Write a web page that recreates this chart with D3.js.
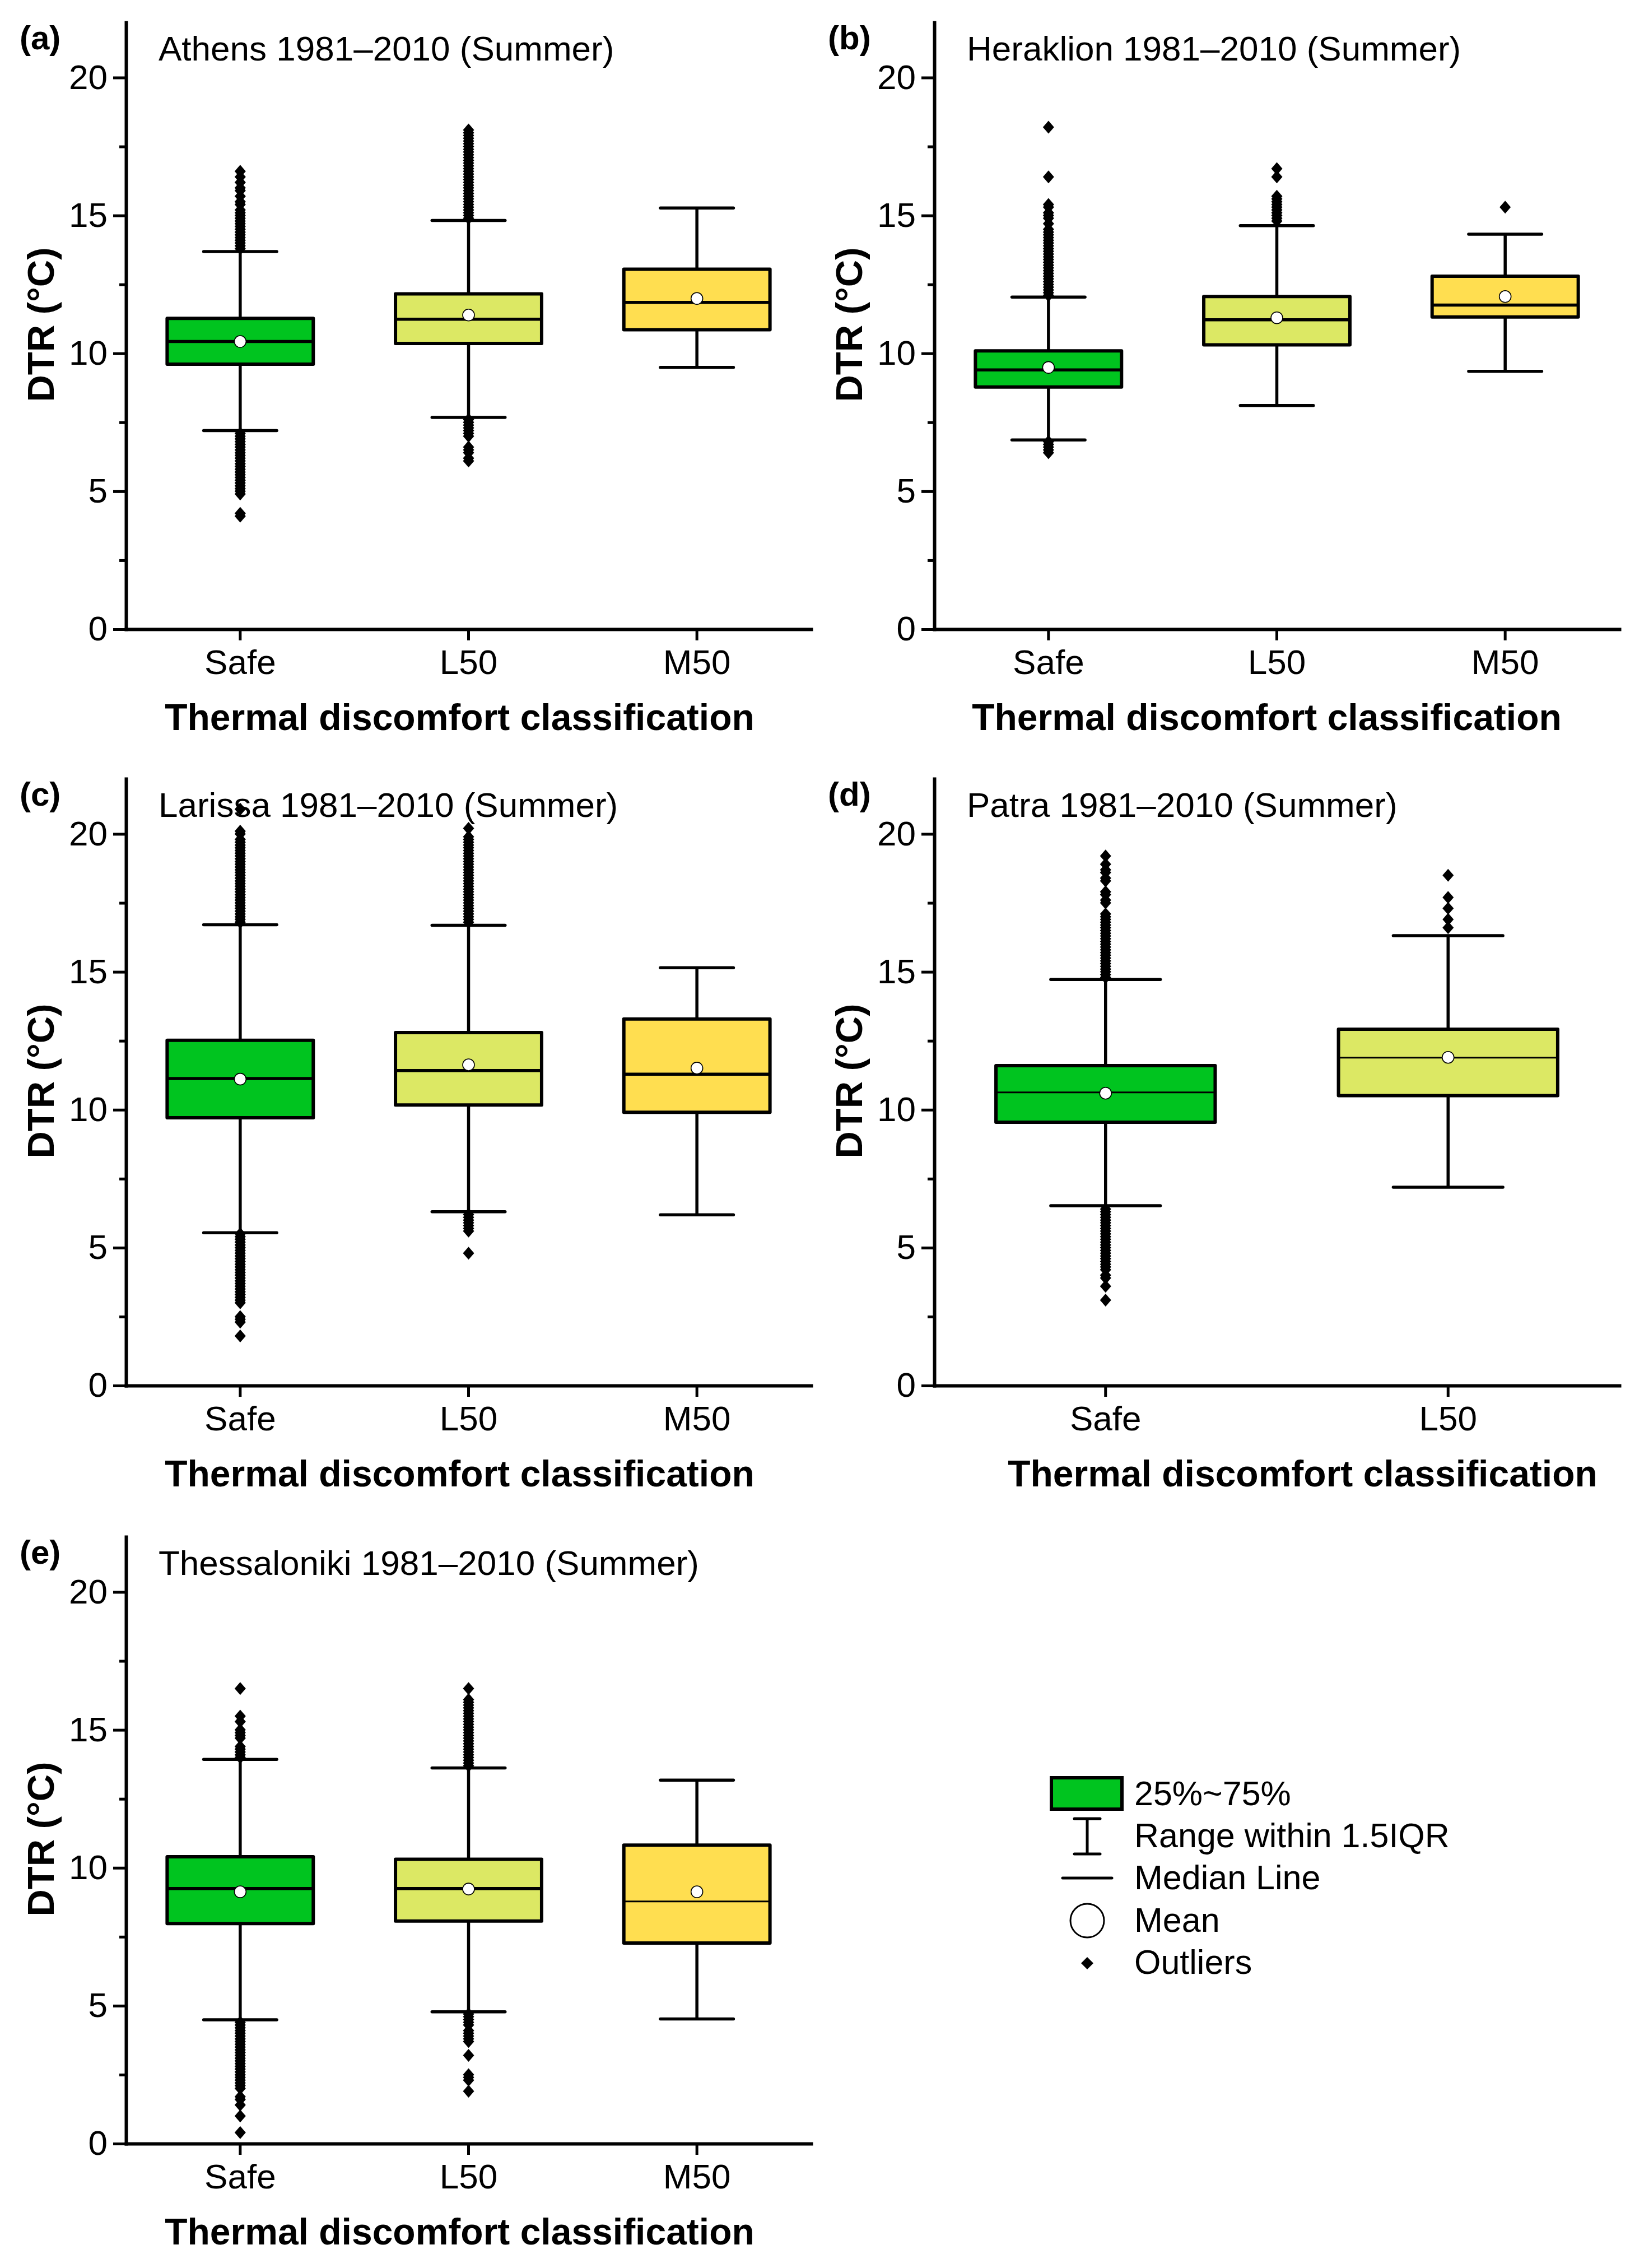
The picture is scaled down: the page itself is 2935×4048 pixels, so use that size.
<!DOCTYPE html>
<html>
<head>
<meta charset="utf-8">
<script src="https://cdn.jsdelivr.net/npm/d3@7"></script>
<style>
  html, body { margin: 0; padding: 0; background: #ffffff; }
  svg { display: block; }
  text { font-family: "Liberation Sans", Arial, sans-serif; fill: #000; }
</style>
</head>
<body>
<script>
// ---------------- DATA ----------------
const panelLabels = ["(a)", "(b)", "(c)", "(d)", "(e)"];
const panelTitles = [
  "Athens 1981\u20132010 (Summer)",
  "Heraklion 1981\u20132010 (Summer)",
  "Larissa 1981\u20132010 (Summer)",
  "Patra 1981\u20132010 (Summer)",
  "Thessaloniki 1981\u20132010 (Summer)"
];
const categories = [
  ["Safe", "L50", "M50"],
  ["Safe", "L50", "M50"],
  ["Safe", "L50", "M50"],
  ["Safe", "L50"],
  ["Safe", "L50", "M50"]
];
const yTicks = [0, 5, 10, 15, 20];
const yMinorTicks = [2.5, 7.5, 12.5, 17.5];
const xAxisTitle = "Thermal discomfort classification";
const yAxisTitle = "DTR (\u00B0C)";

const whiskerLow  = [[7.20, 7.68, 9.49], [6.86, 8.11, 9.35], [5.54, 6.30, 6.19], [6.52, 7.19], [4.49, 4.78, 4.52]];
const q1          = [[9.61, 10.36, 10.86], [8.78, 10.31, 11.32], [9.71, 10.17, 9.91], [9.55, 10.51], [7.98, 8.07, 7.27]];
const median      = [[10.43, 11.24, 11.85], [9.40, 11.22, 11.75], [11.13, 11.42, 11.29], [10.63, 11.89], [9.25, 9.25, 8.78]];
const q3          = [[11.27, 12.16, 13.05], [10.09, 12.06, 12.80], [12.52, 12.80, 13.29], [11.60, 12.92], [10.40, 10.31, 10.82]];
const whiskerHigh = [[13.69, 14.82, 15.27], [12.04, 14.63, 14.32], [16.71, 16.69, 15.15], [14.72, 16.31], [13.93, 13.62, 13.18]];
const means       = [[10.43, 11.39, 11.99], [9.49, 11.29, 12.06], [11.11, 11.63, 11.51], [10.60, 11.90], [9.13, 9.23, 9.13]];

const athensOutliers = [
  [13.8, 13.9, 14.0, 14.1, 14.2, 14.3, 14.4, 14.5, 14.6, 14.7, 14.8, 14.9, 15.0, 15.1, 15.2, 15.4, 15.5, 15.7, 15.9, 16.0, 16.2, 16.4, 16.6,
   7.1, 7.0, 6.9, 6.8, 6.7, 6.6, 6.5, 6.4, 6.3, 6.2, 6.1, 6.0, 5.9, 5.8, 5.7, 5.6, 5.5, 5.4, 5.3, 5.2, 5.1, 5.0, 4.9, 4.2, 4.1],
  [14.9, 15.0, 15.1, 15.2, 15.3, 15.4, 15.5, 15.6, 15.7, 15.8, 15.9, 16.0, 16.1, 16.2, 16.3, 16.4, 16.5, 16.6, 16.7, 16.8, 16.9,
   17.0, 17.1, 17.2, 17.3, 17.4, 17.5, 17.6, 17.7, 17.8, 17.9, 18.0, 18.1,
   7.6, 7.5, 7.4, 7.3, 7.2, 7.1, 7.0, 6.6, 6.5, 6.4, 6.2, 6.1],
  []
];
const heraklionOutliers = [
  [12.1, 12.2, 12.3, 12.4, 12.5, 12.6, 12.7, 12.8, 12.9, 13.0, 13.1, 13.2, 13.3, 13.4, 13.5, 13.6, 13.7, 13.8, 13.9, 14.0, 14.1, 14.2, 14.3, 14.4, 14.5,
   14.7, 14.9, 15.0, 15.1, 15.3, 15.4, 16.4, 18.2,
   6.8, 6.7, 6.6, 6.5, 6.4],
  [14.8, 14.9, 15.0, 15.1, 15.2, 15.3, 15.4, 15.5, 15.6, 15.7, 16.4, 16.7],
  [15.3]
];
const larissaOutliers = [
  [16.8, 16.9, 17.0, 17.1, 17.2, 17.3, 17.4, 17.5, 17.6, 17.7, 17.8, 17.9, 18.0, 18.1, 18.2, 18.3, 18.4, 18.5, 18.6, 18.7, 18.8, 18.9,
   19.0, 19.1, 19.2, 19.3, 19.4, 19.5, 19.6, 19.7, 19.8, 20.0, 20.1, 20.9,
   5.5, 5.4, 5.3, 5.2, 5.1, 5.0, 4.9, 4.8, 4.7, 4.6, 4.5, 4.4, 4.3, 4.2, 4.1, 4.0, 3.9, 3.8, 3.7, 3.6, 3.5, 3.4, 3.3, 3.2, 3.1, 3.0,
   2.5, 2.4, 2.3, 1.8],
  [16.8, 16.9, 17.0, 17.1, 17.2, 17.3, 17.4, 17.5, 17.6, 17.7, 17.8, 17.9, 18.0, 18.1, 18.2, 18.3, 18.4, 18.5, 18.6, 18.7, 18.8, 18.9,
   19.0, 19.1, 19.2, 19.3, 19.4, 19.5, 19.6, 19.7, 19.8, 19.9, 20.2,
   6.2, 6.1, 6.0, 5.9, 5.8, 5.7, 5.6, 4.8],
  []
];
const patraOutliers = [
  [14.8, 14.9, 15.0, 15.1, 15.2, 15.3, 15.4, 15.5, 15.6, 15.7, 15.8, 15.9, 16.0, 16.1, 16.2, 16.3, 16.4, 16.5, 16.6, 16.7, 16.8, 16.9, 17.0, 17.1,
   17.5, 17.6, 17.8, 17.9, 18.3, 18.4, 18.6, 18.7, 18.9, 19.2,
   6.4, 6.3, 6.2, 6.1, 6.0, 5.9, 5.8, 5.7, 5.6, 5.5, 5.4, 5.3, 5.2, 5.1, 5.0, 4.9, 4.8, 4.7, 4.6, 4.5, 4.4, 4.3, 4.2,
   4.0, 3.9, 3.6, 3.1],
  [16.6, 16.9, 17.3, 17.7, 18.5]
];
const thessalonikiOutliers = [
  [14.0, 14.1, 14.2, 14.3, 14.4, 14.7, 14.8, 14.9, 15.0, 15.3, 15.5, 16.5,
   4.4, 4.3, 4.2, 4.1, 4.0, 3.9, 3.8, 3.7, 3.6, 3.5, 3.4, 3.3, 3.2, 3.1, 3.0, 2.9, 2.8, 2.7, 2.6, 2.5, 2.4, 2.3, 2.2, 2.1, 2.0,
   1.7, 1.6, 1.4, 1.0, 0.4],
  [13.7, 13.8, 13.9, 14.0, 14.1, 14.2, 14.3, 14.4, 14.5, 14.6, 14.7, 14.8, 14.9, 15.0, 15.1, 15.2, 15.3, 15.4, 15.5, 15.6, 15.7, 15.8,
   15.9, 16.0, 16.1, 16.5,
   4.7, 4.6, 4.5, 4.4, 4.3, 4.1, 4.0, 3.9, 3.8, 3.7, 3.2, 2.5, 2.4, 2.3, 1.9],
  []
];
const outliers = [athensOutliers, heraklionOutliers, larissaOutliers, patraOutliers, thessalonikiOutliers];

const legendLabels = ["25%~75%", "Range within 1.5IQR", "Median Line", "Mean", "Outliers"];

// ---------------- STYLE / LAYOUT ----------------
const categoryColors = {"Safe": "#00C41F", "L50": "#DCE864", "M50": "#FFDE50"};
const thinMedian = [[false, false, false], [false, false, false], [false, false, false], [true, true], [false, false, true]];

const W = 2935, H = 4048;
const plotW = 1223, plotH = 1083;
const panelPos = [
  {x: 225, y: 1123}, {x: 1668, y: 1123},
  {x: 225, y: 2473}, {x: 1668, y: 2473},
  {x: 225, y: 3826}
];
const xTitleShift = [-16, -18, -16, 46, -16];
const FONT = '"Liberation Sans", Arial, sans-serif';

const svg = d3.select("body").append("svg")
  .attr("width", W).attr("height", H)
  .attr("viewBox", `0 0 ${W} ${H}`);
svg.append("rect").attr("width", W).attr("height", H).attr("fill", "#fff");

function diamondPath(cx, cy, hw, hh) {
  return `M${cx},${cy - hh}L${cx + hw},${cy}L${cx},${cy + hh}L${cx - hw},${cy}Z`;
}

panelPos.forEach((pos, p) => {
  const g = svg.append("g");
  const cats = categories[p];
  const y = d3.scaleLinear().domain([0, 22]).range([pos.y, pos.y - plotH]);
  const x = d3.scaleBand().domain(cats).range([pos.x, pos.x + plotW]).padding(0);
  const bw = x.bandwidth();
  const boxW = bw * 0.64, capW = bw * 0.32;

  const rows = cats.map((c, i) => ({
    cat: c,
    lo: whiskerLow[p][i], q1: q1[p][i], med: median[p][i], q3: q3[p][i],
    hi: whiskerHigh[p][i], mean: means[p][i], out: outliers[p][i], thin: thinMedian[p][i]
  }));

  const bg = g.append("g");
  rows.forEach(r => {
    const cx = x(r.cat) + bw / 2;
    bg.append("line").attr("x1", cx).attr("x2", cx).attr("y1", y(r.lo)).attr("y2", y(r.hi))
      .attr("stroke", "#000").attr("stroke-width", 5.5);
    [r.lo, r.hi].forEach(v => {
      bg.append("line").attr("x1", cx - capW / 2).attr("x2", cx + capW / 2).attr("y1", y(v)).attr("y2", y(v))
        .attr("stroke", "#000").attr("stroke-width", 5.5).attr("stroke-linecap", "round");
    });
    bg.append("rect").attr("x", cx - boxW / 2).attr("y", y(r.q3)).attr("width", boxW)
      .attr("height", y(r.q1) - y(r.q3)).attr("fill", categoryColors[r.cat])
      .attr("stroke", "#000").attr("stroke-width", 6).attr("stroke-linejoin", "round");
    bg.append("line").attr("x1", cx - boxW / 2).attr("x2", cx + boxW / 2).attr("y1", y(r.med)).attr("y2", y(r.med))
      .attr("stroke", "#000").attr("stroke-width", r.thin ? 3 : 5.5);
    bg.append("circle").attr("cx", cx).attr("cy", y(r.mean)).attr("r", 10.5)
      .attr("fill", "#fff").attr("stroke", "#000").attr("stroke-width", 1.6);
    bg.selectAll(null).data(r.out).enter().append("path")
      .attr("d", v => diamondPath(cx, y(v), 10, 11.5)).attr("fill", "#000");
  });

  const yAxis = d3.axisLeft(y).tickValues(yTicks).tickSize(23).tickSizeOuter(0).tickPadding(10)
    .tickFormat(d3.format("d"));
  const ya = g.append("g").attr("transform", `translate(${pos.x},0)`).call(yAxis);
  const yMinor = d3.axisLeft(y).tickValues(yMinorTicks).tickSize(12).tickSizeOuter(0).tickFormat("");
  const ym = g.append("g").attr("transform", `translate(${pos.x},0)`).call(yMinor);
  ym.select(".domain").remove();

  const xAxis = d3.axisBottom(x).tickSize(20).tickSizeOuter(0).tickPadding(16);
  const xa = g.append("g").attr("transform", `translate(0,${pos.y})`).call(xAxis);

  [ya, ym, xa].forEach(a => {
    a.selectAll(".domain").attr("stroke", "#000").attr("stroke-width", 6).attr("stroke-linecap", "square");
    a.selectAll(".tick line").attr("stroke", "#000").attr("stroke-width", 5);
    a.selectAll(".tick text").attr("font-family", FONT).attr("font-size", 62).attr("fill", "#000");
  });

  g.append("text").attr("x", pos.x - 190).attr("y", pos.y - plotH + 48)
    .attr("font-family", FONT).attr("font-weight", "bold").attr("font-size", 60).text(panelLabels[p]);
  g.append("text").attr("x", pos.x + 58).attr("y", pos.y - plotH + 68)
    .attr("font-family", FONT).attr("font-size", 62).text(panelTitles[p]);
  g.append("text").attr("x", pos.x + plotW / 2 + xTitleShift[p]).attr("y", pos.y + 180)
    .attr("text-anchor", "middle").attr("font-family", FONT).attr("font-weight", "bold").attr("font-size", 66)
    .text(xAxisTitle);
  g.append("text")
    .attr("transform", `translate(${pos.x - 129},${pos.y - plotH / 2 - 2}) rotate(-90)`)
    .attr("text-anchor", "middle").attr("font-family", FONT).attr("font-weight", "bold").attr("font-size", 67)
    .text(yAxisTitle);
});

// ---------------- LEGEND ----------------
const lg = svg.append("g");
const lx = 1941, textX = 2025;
const rowY = [3222, 3297, 3372, 3448, 3523];
lg.append("rect").attr("x", 1877).attr("y", 3173).attr("width", 126).attr("height", 56)
  .attr("fill", categoryColors["Safe"]).attr("stroke", "#000").attr("stroke-width", 6);
lg.append("line").attr("x1", lx).attr("x2", lx).attr("y1", 3246).attr("y2", 3309).attr("stroke", "#000").attr("stroke-width", 5);
[3246, 3309].forEach(v => lg.append("line").attr("x1", lx - 23).attr("x2", lx + 23).attr("y1", v).attr("y2", v)
  .attr("stroke", "#000").attr("stroke-width", 5).attr("stroke-linecap", "round"));
lg.append("line").attr("x1", 1897).attr("x2", 1985).attr("y1", 3352).attr("y2", 3352)
  .attr("stroke", "#000").attr("stroke-width", 5).attr("stroke-linecap", "round");
lg.append("circle").attr("cx", lx).attr("cy", 3428).attr("r", 30).attr("fill", "#fff")
  .attr("stroke", "#000").attr("stroke-width", 3);
lg.append("path").attr("d", diamondPath(lx, 3504, 11, 11)).attr("fill", "#000");
legendLabels.forEach((t, i) => {
  lg.append("text").attr("x", textX).attr("y", rowY[i]).attr("font-family", FONT).attr("font-size", 61).text(t);
});
</script>
</body>
</html>
